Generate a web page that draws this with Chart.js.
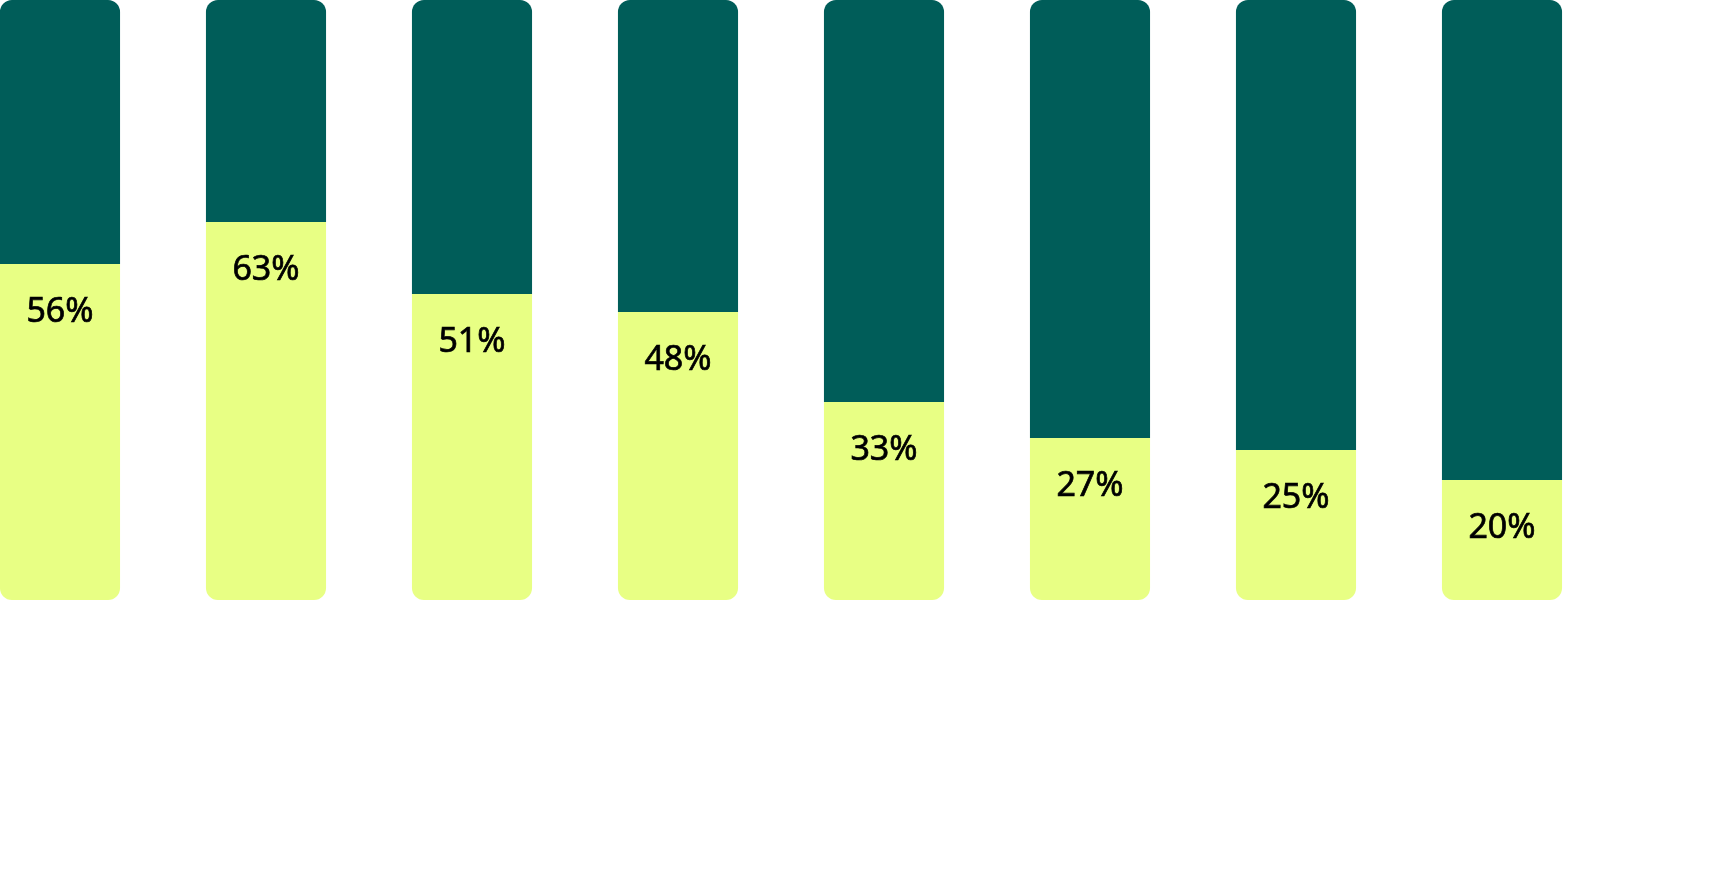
<!DOCTYPE html>
<html>
<head>
<meta charset="utf-8">
<script src="https://cdn.jsdelivr.net/npm/chart.js@4"></script>
<style>
  html, body { margin: 0; padding: 0; background: #fff; overflow: hidden; }
  #wrap { position: absolute; left: -43px; top: 0; width: 1755px; height: 878px; }
</style>
</head>
<body>
<div id="wrap"><canvas id="shareChart"></canvas></div>
<script>
// Chart data
const categories = ["1", "2", "3", "4", "5", "6", "7", "8"];
const yesValues = [56, 63, 51, 48, 33, 27, 25, 20];   // yellow, bottom part
const restValues = [44, 37, 49, 52, 67, 73, 75, 80];  // dark green, top part

const yellow = '#E8FF84';
const darkGreen = '#005D59';

// Draw the percentage under the top edge of each yellow segment
const valueLabels = {
    id: 'valueLabels',
    afterDatasetsDraw(chart) {
        const ctx = chart.ctx;
        const meta = chart.getDatasetMeta(0);
        ctx.save();
        ctx.font = '34px "Noto Sans"';
        ctx.fillStyle = '#000';
        ctx.strokeStyle = '#000';
        ctx.lineWidth = 0.7;
        ctx.textAlign = 'center';
        ctx.textBaseline = 'alphabetic';
        meta.data.forEach(function (bar, i) {
            const label = yesValues[i] + '%';
            ctx.fillText(label, bar.x, bar.y + 58);
            ctx.strokeText(label, bar.x, bar.y + 58);
        });
        ctx.restore();
    }
};

const ctx = document.getElementById('shareChart').getContext('2d');
const myChart = new Chart(ctx, {
    type: 'bar',
    data: {
        labels: categories,
        datasets: [{
            data: yesValues,
            backgroundColor: yellow,
            borderSkipped: false,
            borderRadius: { topLeft: 0, topRight: 0, bottomLeft: 12, bottomRight: 12 }
        }, {
            data: restValues,
            backgroundColor: darkGreen,
            borderSkipped: false,
            borderRadius: { topLeft: 12, topRight: 12, bottomLeft: 0, bottomRight: 0 }
        }]
    },
    options: {
        responsive: true,
        maintainAspectRatio: false,
        animation: false,
        categoryPercentage: 1,
        barPercentage: 0.583,
        layout: { padding: { left: 0, top: 0, right: 107, bottom: 278 } },
        plugins: {
            legend: { display: false },
            tooltip: { enabled: false }
        },
        scales: {
            x: { stacked: true, display: false },
            y: { stacked: true, display: false, min: 0, max: 100 }
        }
    },
    plugins: [valueLabels]
});
</script>
</body>
</html>
